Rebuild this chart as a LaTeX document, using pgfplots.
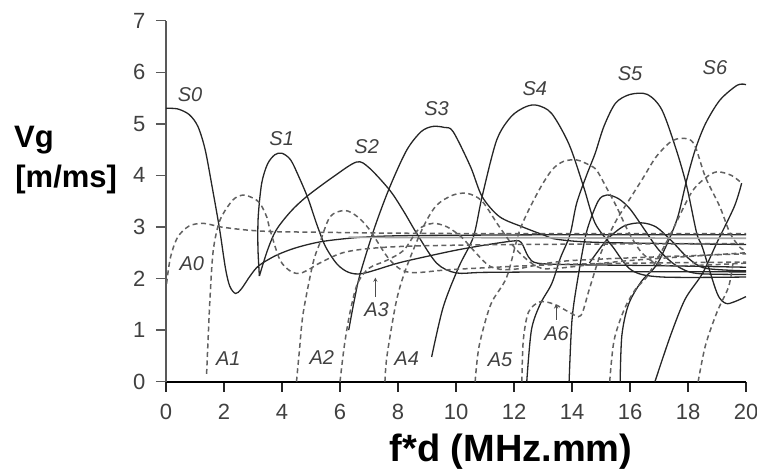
\documentclass[border=0pt]{standalone}
\usepackage{fontspec}
\setmainfont{Liberation Sans}
\usepackage{pgfplots}
\pgfplotsset{compat=1.18}
\pgfplotsset{
  mS/.style={black!85, line width=1.3pt, smooth, tension=0.5},
  mA/.style={black!62, line width=1.5pt, dash pattern=on 5pt off 3.5pt, smooth, tension=0.5},
}
\tikzset{mlab/.style={font=\fontsize{20}{20}\selectfont\itshape, text=black!75, inner sep=0pt}}
\begin{document}
\begin{tikzpicture}
\useasboundingbox (0,0) rectangle (757pt,472pt);
\begin{axis}[
  at={(166pt,90.3pt)}, anchor=south west,
  scale only axis, width=580pt, height=361pt,
  xmin=0, xmax=20, ymin=0, ymax=7,
  axis x line=bottom, axis y line=left,
  x axis line style={-, black, line width=1.6pt},
  y axis line style={-, black!65, line width=1.6pt},
  xtick={0,2,...,20}, ytick={0,1,...,7},
  tick align=outside, major tick length=10pt,
  xtick style={black!85, line width=1.5pt},
  ytick style={black!65, line width=1.5pt},
  ticklabel style={font=\fontsize{22}{22}\selectfont, text=black!75},
  xticklabel style={yshift=-9pt},
  yticklabel style={xshift=-7pt},
  /pgf/number format/assume math mode=true,
  clip=false,
]
% symmetric modes (solid)
\addplot[mS] coordinates {(0,5.3)(0.4,5.29)(0.8,5.18)(1.1,4.95)(1.35,4.5)(1.6,3.75)(1.85,2.95)(2.05,2.2)(2.2,1.85)(2.4,1.71)(2.6,1.8)(2.9,2.05)(3.2,2.25)(3.8,2.45)(4.5,2.6)(5.4,2.72)(6.7,2.8)(8,2.83)(10,2.84)(14,2.85)(20,2.85)};
\addplot[mS] coordinates {(3.22,2.05)(3.17,2.6)(3.18,3.2)(3.3,3.85)(3.5,4.22)(3.75,4.4)(4.0,4.43)(4.3,4.3)(4.6,3.95)(4.9,3.55)(5.2,3.05)(5.5,2.62)(5.9,2.28)(6.3,2.12)(6.8,2.1)(8,2.3)(9,2.43)(10,2.55)(11,2.65)(12,2.73)(12.25,2.7)(12.5,2.42)(12.8,2.3)(14,2.27)(17,2.25)(20,2.22)};
\addplot[mS] coordinates {(3.22,2.05)(3.5,2.55)(3.8,2.94)(4.3,3.3)(4.85,3.59)(5.76,3.97)(6.57,4.26)(7.0,4.15)(7.72,3.71)(8.2,3.3)(8.64,2.88)(9.33,2.3)(10.0,2.11)(11,2.12)(14,2.13)(20,2.13)};
\addplot[mS] coordinates {(6.3,1.0)(6.5,1.6)(6.7,2.1)(7.2,3.0)(7.72,3.78)(8.3,4.49)(8.8,4.85)(9.2,4.95)(9.6,4.93)(9.9,4.85)(10.5,4.17)(10.9,3.59)(11.5,3.2)(12.3,3.0)(13.0,2.85)(13.5,2.76)(15,2.7)(20,2.66)};
\addplot[mS] coordinates {(9.16,0.48)(9.56,1.45)(10.1,2.23)(10.6,2.81)(10.9,3.59)(11.4,4.68)(11.9,5.14)(12.4,5.33)(12.8,5.36)(13.3,5.2)(13.9,4.6)(14.4,3.78)(14.8,3.07)(15.4,2.62)(16.06,2.16)(17.1,2.03)(20,2.03)};
\addplot[mS] coordinates {(12.44,0)(12.6,1.0)(12.9,1.5)(13.3,1.9)(13.6,2.4)(13.93,2.85)(14.16,3.46)(14.5,4.0)(14.8,4.43)(15.1,4.95)(15.5,5.4)(16.0,5.57)(16.6,5.57)(17.1,5.27)(17.6,4.49)(17.96,3.78)(18.3,2.88)(18.5,2.6)(19.0,1.72)(19.3,1.52)(19.6,1.55)(20,1.65)};
\addplot[mS] coordinates {(13.9,0)(14.0,1.2)(14.2,2.0)(14.5,2.9)(14.9,3.5)(15.2,3.62)(15.6,3.55)(16.0,3.35)(16.5,2.95)(17.0,2.55)(17.6,2.25)(18.3,2.1)(20,2.08)};
\addplot[mS] coordinates {(14.6,2.3)(15.2,2.75)(15.8,3.02)(16.4,3.08)(16.9,3.0)(17.4,2.75)(18,2.4)(18.6,2.2)(20,2.15)};
\addplot[mS] coordinates {(15.66,0)(15.72,0.9)(15.95,1.5)(16.4,1.95)(16.9,2.25)(17.3,2.7)(17.65,3.2)(17.95,3.9)(18.25,4.5)(18.6,5.0)(19.1,5.46)(19.7,5.75)(20,5.76)};
\addplot[mS] coordinates {(16.86,0)(17.4,0.9)(17.9,1.6)(18.5,2.1)(19.0,2.7)(19.6,3.4)(19.85,3.85)};
\addplot[black!35, line width=1.7pt] coordinates {(6.3,2.8)(20,2.78)};
% antisymmetric modes (dashed)
\addplot[mA] coordinates {(0.02,1.9)(0.15,2.4)(0.4,2.8)(0.8,3.02)(1.3,3.07)(1.9,3.0)(2.8,2.94)(3.7,2.91)(5,2.9)(8,2.88)(12,2.87)(20,2.87)};
\addplot[mA] coordinates {(1.4,0.15)(1.45,0.8)(1.52,1.65)(1.63,2.55)(1.86,3.13)(2.3,3.52)(2.66,3.62)(3.0,3.56)(3.24,3.46)(3.47,3.2)(3.59,2.94)(3.93,2.36)(4.3,2.14)(4.62,2.1)(5.0,2.2)(5.3,2.3)(6.23,2.52)(8,2.62)(12,2.66)(20,2.68)};
\addplot[mA] coordinates {(4.5,0)(4.6,0.6)(4.73,1.33)(5.07,2.3)(5.3,2.68)(5.66,3.2)(6.17,3.32)(6.6,3.2)(7.03,2.94)(7.72,2.36)(8.4,2.12)(10,2.18)(14,2.28)(20,2.32)};
\addplot[mA] coordinates {(6.0,0)(6.15,0.7)(6.34,1.33)(6.6,1.9)(7.0,2.2)(7.6,2.35)(8.2,2.55)(8.7,2.95)(9.2,3.07)(9.7,3.0)(10.2,2.8)(10.6,2.55)(11.2,2.23)(12,2.18)(14,2.35)(20,2.48)};
\addplot[mA] coordinates {(7.55,0)(7.62,0.5)(7.95,1.58)(8.3,2.23)(8.87,3.0)(9.33,3.42)(9.9,3.62)(10.4,3.65)(10.9,3.5)(11.5,3.0)(12.1,2.55)(12.8,2.23)(13.5,2.2)(16,2.35)(20,2.5)};
\addplot[mA] coordinates {(10.66,0)(10.8,0.7)(11.2,1.5)(11.75,2.03)(12.2,2.94)(12.8,3.65)(13.3,4.1)(13.7,4.27)(14.16,4.3)(14.6,4.2)(14.85,4.1)(15.2,3.75)(15.54,3.39)(16.0,2.85)(16.5,2.45)(17.3,2.25)(20,2.3)};
\addplot[mA] coordinates {(12.27,0)(12.32,0.8)(12.5,1.35)(12.9,1.55)(13.4,1.5)(13.9,1.35)(14.3,1.28)(14.6,1.8)(15.0,2.5)(15.5,3.1)(16.0,3.55)(16.45,3.95)(16.9,4.36)(17.4,4.65)(17.8,4.72)(18.2,4.62)(18.6,3.97)(19.1,3.39)(19.45,2.88)(19.8,2.6)(20,2.55)};
\addplot[mA] coordinates {(15.3,0)(15.45,0.8)(15.8,1.4)(16.2,1.8)(16.6,2.05)(17.3,2.75)(18.1,3.65)(18.6,3.95)(19.0,4.07)(19.5,4.0)(19.85,3.85)};
\addplot[mA] coordinates {(18.35,0)(18.6,0.7)(19.0,1.35)(19.4,1.84)(19.55,2.3)};
% mode labels
\node[mlab] at (axis cs:0.83,5.56) {S0};
\node[mlab] at (axis cs:3.99,4.72) {S1};
\node[mlab] at (axis cs:6.92,4.55) {S2};
\node[mlab] at (axis cs:9.33,5.3) {S3};
\node[mlab] at (axis cs:12.72,5.69) {S4};
\node[mlab] at (axis cs:16.0,5.98) {S5};
\node[mlab] at (axis cs:18.93,6.1) {S6};
\node[mlab] at (axis cs:0.89,2.29) {A0};
\node[mlab] at (axis cs:2.15,0.45) {A1};
\node[mlab] at (axis cs:5.37,0.46) {A2};
\node[mlab] at (axis cs:7.26,1.39) {A3};
\node[mlab] at (axis cs:8.3,0.45) {A4};
\node[mlab] at (axis cs:11.52,0.42) {A5};
\node[mlab] at (axis cs:13.47,0.94) {A6};
\draw[-stealth, black!70, line width=0.9pt] (axis cs:7.22,1.65) -- (axis cs:7.22,2.02);
\draw[-stealth, black!70, line width=0.9pt] (axis cs:13.45,1.2) -- (axis cs:13.45,1.5);
% axis titles
\node[anchor=base west, font=\fontsize{31}{31}\selectfont\bfseries, inner sep=0pt] at (axis cs:-5.24,4.55) {Vg};
\node[anchor=base west, font=\fontsize{31}{31}\selectfont\bfseries, inner sep=0pt] at (axis cs:-5.2,3.77) {[m/ms]};
\node[anchor=base, font=\fontsize{38}{38}\selectfont\bfseries, inner sep=0pt] at (axis cs:11.9,-1.55) {f*d (MHz.mm)};
\end{axis}
\end{tikzpicture}
\end{document}
